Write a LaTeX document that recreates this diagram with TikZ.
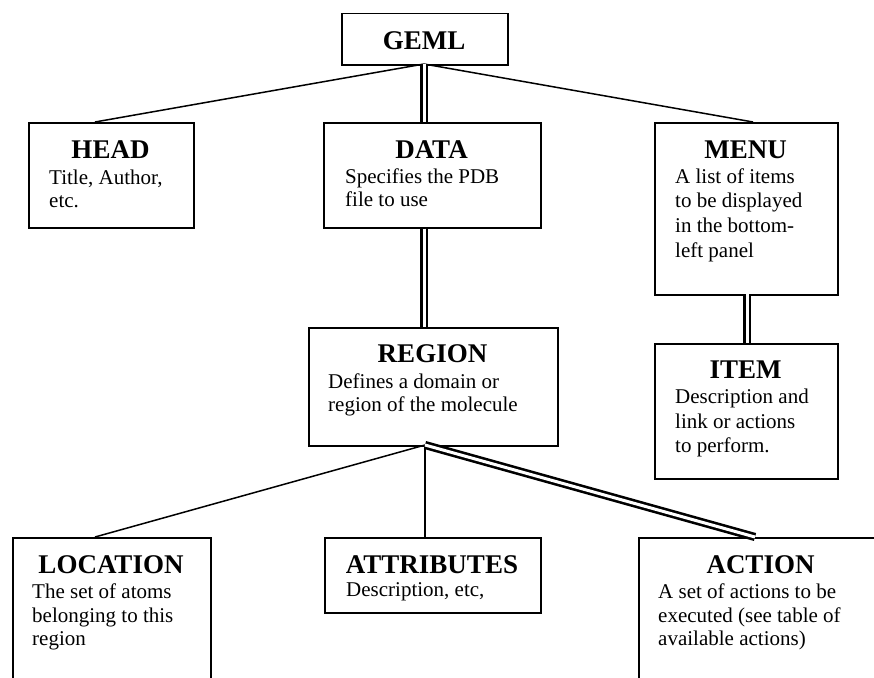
\documentclass[tikz,border=0pt]{standalone}
\usepackage{fontspec}
\setmainfont{Liberation Serif}
\usetikzlibrary{calc}
\tikzset{
  boxst/.style={draw, line width=1.5pt, anchor=north west, inner sep=0pt, fill=white},
  ttl/.style={anchor=base, inner sep=0pt, font=\fontsize{27}{30}\selectfont\bfseries},
  bdy/.style={anchor=base west, inner sep=0pt, font=\fontsize{21}{24}\selectfont},
  conn/.style={line width=1.5pt},
  dconn/.style={line width=2.6pt, double=white, double distance=3pt}
}
\begin{document}
\begin{tikzpicture}[x=1pt,y=-1pt]
\useasboundingbox (0,0) rectangle (874,677);
\clip (0,0) rectangle (874,677);
% boxes
\node[boxst, minimum width=166pt, minimum height=51pt] (geml) at (341,13) {};
\node[boxst, minimum width=165pt, minimum height=105pt] (head) at (28,122) {};
\node[boxst, minimum width=217pt, minimum height=105pt] (data) at (323,122) {};
\node[boxst, minimum width=183pt, minimum height=172pt] (menu) at (654,122) {};
\node[boxst, minimum width=183pt, minimum height=135pt] (item) at (654,343) {};
\node[boxst, minimum width=249pt, minimum height=118pt] (region) at (308,327) {};
\node[boxst, minimum width=198pt, minimum height=170pt] (location) at (12,537) {};
\node[boxst, minimum width=216pt, minimum height=75pt] (attr) at (324,537) {};
\node[boxst, minimum width=246pt, minimum height=170pt] (action) at (638,537) {};
% connector endpoints
\coordinate (top) at (424,64);
\coordinate (headtop) at (95,122);
\coordinate (menutop) at (753,122);
\coordinate (regbot) at (425,445);
\coordinate (loctop) at (95,537);
\coordinate (acttop) at (755,537);
% connectors
\draw[conn] (top) -- (headtop);
\draw[conn] (top) -- (menutop);
\draw[dconn] (top) -- (top |- data.north);
\draw[dconn] (top |- data.south) -- (top |- region.north);
\draw[dconn] (747,294) -- (747,343);
\draw[conn] (regbot) -- (loctop);
\draw[conn] (regbot) -- (regbot |- attr.north);
\draw[dconn] (regbot) -- (acttop);
% titles
\node[ttl] (gemlT) at (424,49) {GEML};
\node[ttl] (headT) at (110.5,158) {HEAD};
\node[ttl] (dataT) at (431.5,158) {DATA};
\node[ttl] (menuT) at (745.5,158) {MENU};
\node[ttl] (itemT) at (745.5,378) {ITEM};
\node[ttl] (regionT) at (432.5,362) {REGION};
\node[ttl] (locT) at (111,573) {LOCATION};
\node[ttl] (attrT) at (432,573) {ATTRIBUTES};
\node[ttl] (actT) at (760.5,573) {ACTION};
% body lines
\node[bdy] (headB1) at (49,184) {Title, Author,};
\node[bdy] (headB2) at (49,207) {etc.};
\node[bdy] (dataB1) at (345,183) {Specifies the PDB};
\node[bdy] (dataB2) at (345,206) {file to use};
\node[bdy] (menuB1) at (675,183) {A list of items};
\node[bdy] (menuB2) at (675,207) {to be displayed};
\node[bdy] (menuB3) at (675,232) {in the bottom-};
\node[bdy] (menuB4) at (675,257) {left panel};
\node[bdy] (itemB1) at (675,403) {Description and};
\node[bdy] (itemB2) at (675,428) {link or actions};
\node[bdy] (itemB3) at (675,452) {to perform.};
\node[bdy] (regionB1) at (328,388) {Defines a domain or};
\node[bdy] (regionB2) at (328,411) {region of the molecule};
\node[bdy] (locB1) at (32,598) {The set of atoms};
\node[bdy] (locB2) at (32,622) {belonging to this};
\node[bdy] (locB3) at (32,645) {region};
\node[bdy] (attrB1) at (346,596) {Description, etc,};
\node[bdy] (actB1) at (658,598) {A set of actions to be};
\node[bdy] (actB2) at (658,622) {executed (see table of};
\node[bdy] (actB3) at (658,645) {available actions)};
\end{tikzpicture}
\end{document}
